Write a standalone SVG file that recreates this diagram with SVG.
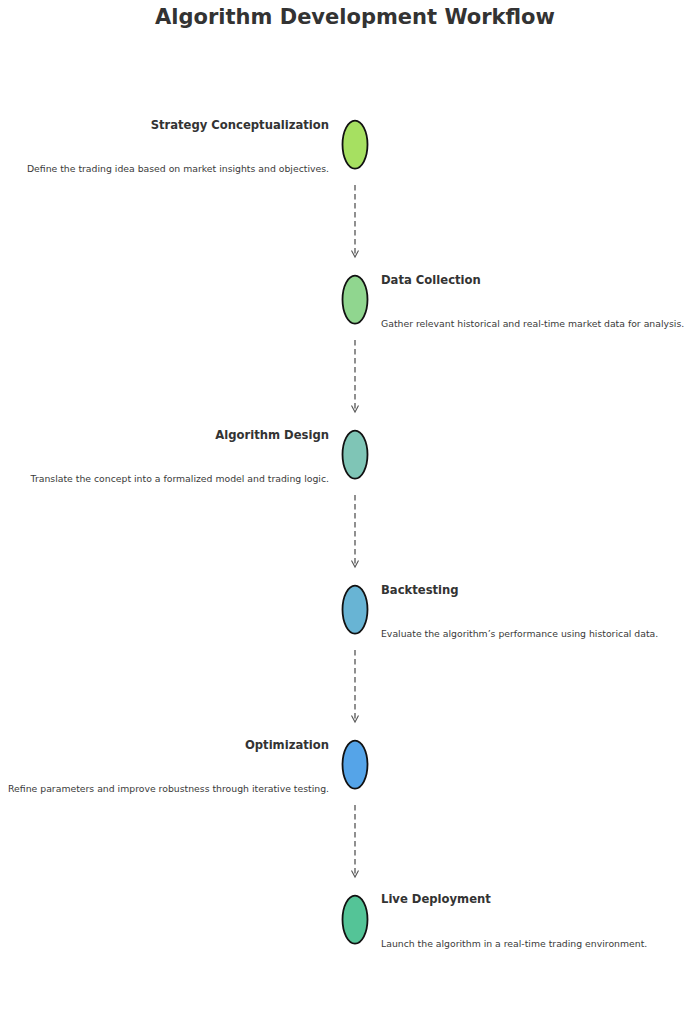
<svg xmlns="http://www.w3.org/2000/svg" width="692" height="1024" viewBox="0 0 692 1024">
<defs>
<style>
.title{font-family:"DejaVu Sans",sans-serif;font-weight:bold;font-size:21px;fill:#333;text-anchor:middle}
.h{font-family:"DejaVu Sans",sans-serif;font-weight:bold;font-size:11.6px;fill:#333}
.d{font-family:"DejaVu Sans",sans-serif;font-size:9.3px;fill:#3a3a3a}
.l{text-anchor:end}
.node ellipse{stroke:#111;stroke-width:1.8}
.conn line{stroke:#555;stroke-width:1.3;stroke-dasharray:5.5,3.5;fill:none}
.conn path{stroke:#555;stroke-width:1.1;fill:none}
</style>
</defs>
<rect width="692" height="1024" fill="#fff"/>
<text class="title" x="355" y="24">Algorithm Development Workflow</text>
<g class="conn" id="connectors">
<line x1="355" y1="185" x2="355" y2="256"/><path d="M351.5,250.5 L355,257 L358.5,250.5"/>
<line x1="355" y1="340" x2="355" y2="411"/><path d="M351.5,405.5 L355,412 L358.5,405.5"/>
<line x1="355" y1="495" x2="355" y2="566"/><path d="M351.5,560.5 L355,567 L358.5,560.5"/>
<line x1="355" y1="650" x2="355" y2="721"/><path d="M351.5,715.5 L355,722 L358.5,715.5"/>
<line x1="355" y1="805" x2="355" y2="876"/><path d="M351.5,870.5 L355,877 L358.5,870.5"/>
</g>
<g class="node" id="n1">
<ellipse cx="355" cy="144.6" rx="12.5" ry="24" fill="#a6e061"/>
<text class="h l" x="329" y="128.5">Strategy Conceptualization</text>
<text class="d l" x="329" y="172.3">Define the trading idea based on market insights and objectives.</text>
</g>
<g class="node" id="n2">
<ellipse cx="355" cy="299.6" rx="12.5" ry="24" fill="#90d68f"/>
<text class="h" x="381" y="283.5">Data Collection</text>
<text class="d" x="381" y="327.3">Gather relevant historical and real-time market data for analysis.</text>
</g>
<g class="node" id="n3">
<ellipse cx="355" cy="454.6" rx="12.5" ry="24" fill="#7fc5b6"/>
<text class="h l" x="329" y="438.5">Algorithm Design</text>
<text class="d l" x="329" y="482.3">Translate the concept into a formalized model and trading logic.</text>
</g>
<g class="node" id="n4">
<ellipse cx="355" cy="609.6" rx="12.5" ry="24" fill="#68b4d4"/>
<text class="h" x="381" y="593.5">Backtesting</text>
<text class="d" x="381" y="637.3">Evaluate the algorithm’s performance using historical data.</text>
</g>
<g class="node" id="n5">
<ellipse cx="355" cy="764.6" rx="12.5" ry="24" fill="#55a4e8"/>
<text class="h l" x="329" y="748.5">Optimization</text>
<text class="d l" x="329" y="792.3">Refine parameters and improve robustness through iterative testing.</text>
</g>
<g class="node" id="n6">
<ellipse cx="355" cy="919.6" rx="12.5" ry="24" fill="#54c497"/>
<text class="h" x="381" y="903">Live Deployment</text>
<text class="d" x="381" y="947">Launch the algorithm in a real-time trading environment.</text>
</g>
</svg>
